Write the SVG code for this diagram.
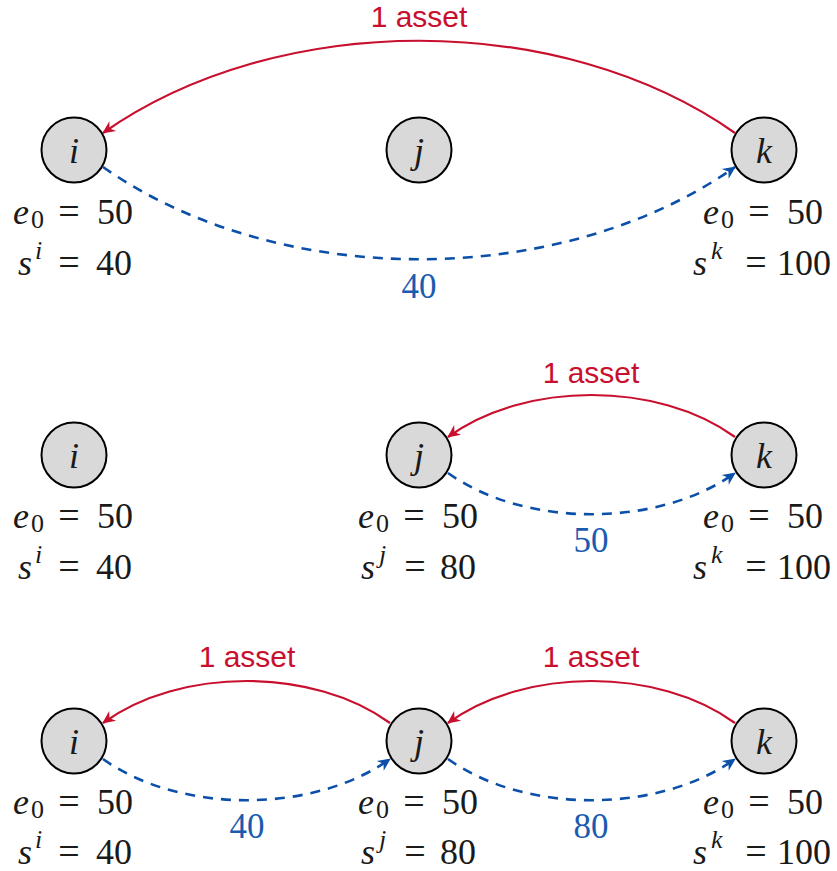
<svg xmlns="http://www.w3.org/2000/svg" width="837" height="871" viewBox="0 0 837 871">
<style>
.nd{fill:#d9d9d9;stroke:#000;stroke-width:2}
.red{fill:none;stroke:#c8102e;stroke-width:2.2}
.blue{fill:none;stroke:#0b4fa8;stroke-width:2.6;stroke-dasharray:10 8}
</style>
<defs>
<marker id="ar" markerUnits="userSpaceOnUse" viewBox="-14 -7 16 14" refX="0" refY="0" markerWidth="16" markerHeight="14" orient="auto">
<path d="M1,0 L-12,-6 L-8,0 L-12,6 Z" fill="#c8102e"/>
</marker>
<marker id="ab" markerUnits="userSpaceOnUse" viewBox="-14 -7 16 14" refX="0" refY="0" markerWidth="16" markerHeight="14" orient="auto">
<path d="M1,0 L-12,-6 L-8,0 L-12,6 Z" fill="#0b4fa8"/>
</marker>
</defs>
<g id="connectors">
<path class="red" d="M735,133 C560,10 278,10 103,133" marker-end="url(#ar)"/>
<path class="blue" d="M103,167 C278,290 560,290 735,167" marker-end="url(#ab)"/>
<path class="red" d="M735,437 C658,381 525,381 448,437" marker-end="url(#ar)"/>
<path class="blue" d="M448,473 C525,528 658,528 735,473" marker-end="url(#ab)"/>
<path class="red" d="M390,723 C313,667 180,667 103,723" marker-end="url(#ar)"/>
<path class="blue" d="M103,759 C180,814 313,814 390,759" marker-end="url(#ab)"/>
<path class="red" d="M735,723 C658,667 525,667 448,723" marker-end="url(#ar)"/>
<path class="blue" d="M448,759 C525,814 658,814 735,759" marker-end="url(#ab)"/>
<text x="419" y="27" style="font-family:'Liberation Sans',sans-serif;font-size:30px" fill="#c8102e" text-anchor="middle">1 asset</text>
<text x="591" y="383" style="font-family:'Liberation Sans',sans-serif;font-size:30px" fill="#c8102e" text-anchor="middle">1 asset</text>
<text x="247" y="667" style="font-family:'Liberation Sans',sans-serif;font-size:30px" fill="#c8102e" text-anchor="middle">1 asset</text>
<text x="591" y="667" style="font-family:'Liberation Sans',sans-serif;font-size:30px" fill="#c8102e" text-anchor="middle">1 asset</text>
<text x="419" y="298" style="font-family:'Liberation Serif',serif;font-size:35px" fill="#1a5bb0" text-anchor="middle">40</text>
<text x="591" y="552" style="font-family:'Liberation Serif',serif;font-size:35px" fill="#1a5bb0" text-anchor="middle">50</text>
<text x="247" y="838" style="font-family:'Liberation Serif',serif;font-size:35px" fill="#1a5bb0" text-anchor="middle">40</text>
<text x="591" y="838" style="font-family:'Liberation Serif',serif;font-size:35px" fill="#1a5bb0" text-anchor="middle">80</text>
</g>
<g id="r1-i">
<circle class="nd" cx="74" cy="150" r="32.5"/>
<text x="74" y="163" style="font-family:'Liberation Serif',serif;font-size:36px;font-style:italic" text-anchor="middle" fill="#1a1a1a">i</text>
<text style="font-family:'Liberation Serif',serif;font-size:36px" fill="#1a1a1a"><tspan font-style="italic" x="13" y="224">e</tspan><tspan font-size="26" x="31" y="228">0</tspan><tspan font-size="38" text-anchor="middle" x="69" y="224">=</tspan><tspan x="97" y="224">50</tspan></text>
<text style="font-family:'Liberation Serif',serif;font-size:36px" fill="#1a1a1a"><tspan font-style="italic" x="18" y="275">s</tspan><tspan font-size="26" font-style="italic" x="35" y="259">i</tspan><tspan font-size="38" text-anchor="middle" x="69" y="275">=</tspan><tspan x="96" y="275">40</tspan></text>
</g>
<g id="r1-j">
<circle class="nd" cx="419" cy="150" r="32.5"/>
<text x="419" y="163" style="font-family:'Liberation Serif',serif;font-size:36px;font-style:italic" text-anchor="middle" fill="#1a1a1a">j</text>
</g>
<g id="r1-k">
<circle class="nd" cx="764" cy="150" r="32.5"/>
<text x="764" y="163" style="font-family:'Liberation Serif',serif;font-size:36px;font-style:italic" text-anchor="middle" fill="#1a1a1a">k</text>
<text style="font-family:'Liberation Serif',serif;font-size:36px" fill="#1a1a1a"><tspan font-style="italic" x="703" y="224">e</tspan><tspan font-size="26" x="721" y="228">0</tspan><tspan font-size="38" text-anchor="middle" x="759" y="224">=</tspan><tspan x="787" y="224">50</tspan></text>
<text style="font-family:'Liberation Serif',serif;font-size:36px" fill="#1a1a1a"><tspan font-style="italic" x="693" y="275">s</tspan><tspan font-size="26" font-style="italic" x="711" y="259">k</tspan><tspan font-size="38" text-anchor="middle" x="756" y="275">=</tspan><tspan x="777" y="275">100</tspan></text>
</g>
<g id="r2-i">
<circle class="nd" cx="74" cy="455" r="32.5"/>
<text x="74" y="468" style="font-family:'Liberation Serif',serif;font-size:36px;font-style:italic" text-anchor="middle" fill="#1a1a1a">i</text>
<text style="font-family:'Liberation Serif',serif;font-size:36px" fill="#1a1a1a"><tspan font-style="italic" x="13" y="528">e</tspan><tspan font-size="26" x="31" y="532">0</tspan><tspan font-size="38" text-anchor="middle" x="69" y="528">=</tspan><tspan x="97" y="528">50</tspan></text>
<text style="font-family:'Liberation Serif',serif;font-size:36px" fill="#1a1a1a"><tspan font-style="italic" x="18" y="579">s</tspan><tspan font-size="26" font-style="italic" x="35" y="563">i</tspan><tspan font-size="38" text-anchor="middle" x="69" y="579">=</tspan><tspan x="96" y="579">40</tspan></text>
</g>
<g id="r2-j">
<circle class="nd" cx="419" cy="455" r="32.5"/>
<text x="419" y="468" style="font-family:'Liberation Serif',serif;font-size:36px;font-style:italic" text-anchor="middle" fill="#1a1a1a">j</text>
<text style="font-family:'Liberation Serif',serif;font-size:36px" fill="#1a1a1a"><tspan font-style="italic" x="358" y="528">e</tspan><tspan font-size="26" x="376" y="532">0</tspan><tspan font-size="38" text-anchor="middle" x="414" y="528">=</tspan><tspan x="442" y="528">50</tspan></text>
<text style="font-family:'Liberation Serif',serif;font-size:36px" fill="#1a1a1a"><tspan font-style="italic" x="361" y="579">s</tspan><tspan font-size="26" font-style="italic" x="379" y="563">j</tspan><tspan font-size="38" text-anchor="middle" x="415" y="579">=</tspan><tspan x="440" y="579">80</tspan></text>
</g>
<g id="r2-k">
<circle class="nd" cx="764" cy="455" r="32.5"/>
<text x="764" y="468" style="font-family:'Liberation Serif',serif;font-size:36px;font-style:italic" text-anchor="middle" fill="#1a1a1a">k</text>
<text style="font-family:'Liberation Serif',serif;font-size:36px" fill="#1a1a1a"><tspan font-style="italic" x="703" y="528">e</tspan><tspan font-size="26" x="721" y="532">0</tspan><tspan font-size="38" text-anchor="middle" x="759" y="528">=</tspan><tspan x="787" y="528">50</tspan></text>
<text style="font-family:'Liberation Serif',serif;font-size:36px" fill="#1a1a1a"><tspan font-style="italic" x="693" y="579">s</tspan><tspan font-size="26" font-style="italic" x="711" y="563">k</tspan><tspan font-size="38" text-anchor="middle" x="756" y="579">=</tspan><tspan x="777" y="579">100</tspan></text>
</g>
<g id="r3-i">
<circle class="nd" cx="74" cy="741" r="32.5"/>
<text x="74" y="754" style="font-family:'Liberation Serif',serif;font-size:36px;font-style:italic" text-anchor="middle" fill="#1a1a1a">i</text>
<text style="font-family:'Liberation Serif',serif;font-size:36px" fill="#1a1a1a"><tspan font-style="italic" x="13" y="814">e</tspan><tspan font-size="26" x="31" y="818">0</tspan><tspan font-size="38" text-anchor="middle" x="69" y="814">=</tspan><tspan x="97" y="814">50</tspan></text>
<text style="font-family:'Liberation Serif',serif;font-size:36px" fill="#1a1a1a"><tspan font-style="italic" x="18" y="864">s</tspan><tspan font-size="26" font-style="italic" x="35" y="848">i</tspan><tspan font-size="38" text-anchor="middle" x="69" y="864">=</tspan><tspan x="96" y="864">40</tspan></text>
</g>
<g id="r3-j">
<circle class="nd" cx="419" cy="741" r="32.5"/>
<text x="419" y="754" style="font-family:'Liberation Serif',serif;font-size:36px;font-style:italic" text-anchor="middle" fill="#1a1a1a">j</text>
<text style="font-family:'Liberation Serif',serif;font-size:36px" fill="#1a1a1a"><tspan font-style="italic" x="358" y="814">e</tspan><tspan font-size="26" x="376" y="818">0</tspan><tspan font-size="38" text-anchor="middle" x="414" y="814">=</tspan><tspan x="442" y="814">50</tspan></text>
<text style="font-family:'Liberation Serif',serif;font-size:36px" fill="#1a1a1a"><tspan font-style="italic" x="361" y="864">s</tspan><tspan font-size="26" font-style="italic" x="379" y="848">j</tspan><tspan font-size="38" text-anchor="middle" x="415" y="864">=</tspan><tspan x="440" y="864">80</tspan></text>
</g>
<g id="r3-k">
<circle class="nd" cx="764" cy="741" r="32.5"/>
<text x="764" y="754" style="font-family:'Liberation Serif',serif;font-size:36px;font-style:italic" text-anchor="middle" fill="#1a1a1a">k</text>
<text style="font-family:'Liberation Serif',serif;font-size:36px" fill="#1a1a1a"><tspan font-style="italic" x="703" y="814">e</tspan><tspan font-size="26" x="721" y="818">0</tspan><tspan font-size="38" text-anchor="middle" x="759" y="814">=</tspan><tspan x="787" y="814">50</tspan></text>
<text style="font-family:'Liberation Serif',serif;font-size:36px" fill="#1a1a1a"><tspan font-style="italic" x="693" y="864">s</tspan><tspan font-size="26" font-style="italic" x="711" y="848">k</tspan><tspan font-size="38" text-anchor="middle" x="756" y="864">=</tspan><tspan x="777" y="864">100</tspan></text>
</g>
</svg>
